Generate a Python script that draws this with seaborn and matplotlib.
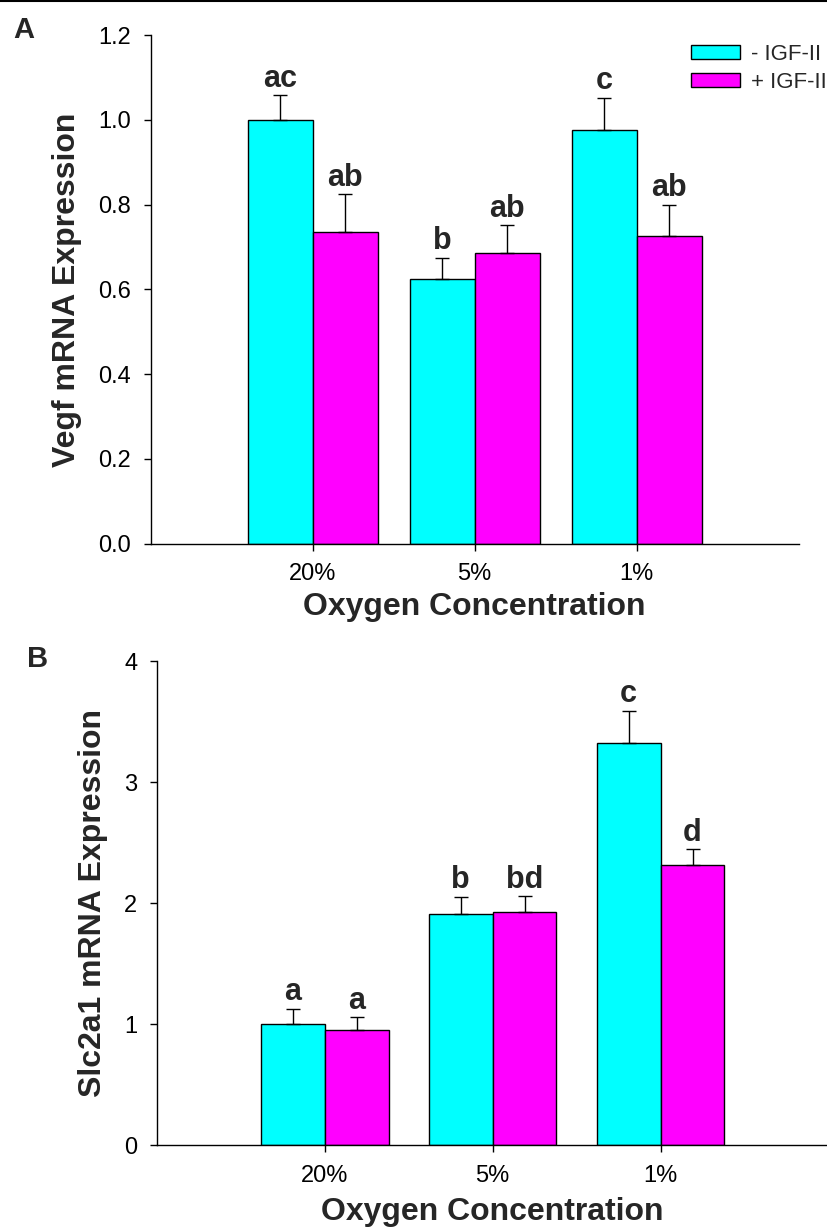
import numpy as np
import pandas as pd
import matplotlib
matplotlib.use("Agg")
import matplotlib.pyplot as plt
import seaborn as sns
from matplotlib.lines import Line2D
from matplotlib.patches import Patch

# ---------------- data ----------------
oxygen = ["20%", "5%", "1%"]
treatments = ["- IGF-II", "+ IGF-II"]

vegf_minus = [1.00, 0.625, 0.975]
vegf_minus_err = [0.058, 0.050, 0.077]
vegf_plus = [0.735, 0.686, 0.725]
vegf_plus_err = [0.090, 0.066, 0.075]
vegf_letters_minus = ["ac", "b", "c"]
vegf_letters_plus = ["ab", "ab", "ab"]

slc_minus = [1.00, 1.913, 3.32]
slc_minus_err = [0.128, 0.140, 0.270]
slc_plus = [0.953, 1.930, 2.317]
slc_plus_err = [0.105, 0.130, 0.130]
slc_letters_minus = ["a", "b", "c"]
slc_letters_plus = ["a", "bd", "d"]

colors = ["#00FFFF", "#FF00FF"]

sns.set_theme(style="white")
plt.rcParams["font.family"] = ["Liberation Sans", "DejaVu Sans"]

W, H = 827, 1227
fig = plt.figure(figsize=(W / 100, H / 100), dpi=100)


def px_axes(left, right, top, bottom):
    return fig.add_axes([left / W, 1 - bottom / H, (right - left) / W, (bottom - top) / H])


def panel(ax, minus, minus_err, plus, plus_err, let_m, let_p, width, ylim, yticks, yfmt, ylabel,
          ylab_x, xlab_y):
    df = pd.DataFrame({
        "oxygen": oxygen * 2,
        "treatment": [treatments[0]] * 3 + [treatments[1]] * 3,
        "value": list(minus) + list(plus),
    })
    sns.barplot(data=df, x="oxygen", y="value", hue="treatment", order=oxygen,
                hue_order=treatments, palette=colors, width=width, dodge=True,
                edgecolor="black", linewidth=1.0, errorbar=None, saturation=1,
                legend=False, ax=ax)
    errs = [minus_err, plus_err]
    lets = [let_m, let_p]
    for cont, err, let in zip(ax.containers, errs, lets):
        xs = [b.get_x() + b.get_width() / 2 for b in cont]
        hs = [b.get_height() for b in cont]
        ax.errorbar(xs, hs, yerr=[np.zeros(len(err)), err], fmt="none", ecolor="black",
                    elinewidth=1.0, capsize=4.7, capthick=1.0, zorder=5)
        for x, h, e, t in zip(xs, hs, err, let):
            ax.annotate(t, (x, h + e), xytext=(0, 6), textcoords="offset points",
                        ha="center", va="baseline", fontsize=22, fontweight="bold")
    ax.set_xlim(-1, 3)
    ax.set_ylim(*ylim)
    ax.set_yticks(yticks)
    ax.set_yticklabels([yfmt.format(v) for v in yticks])
    for s in ["top", "right"]:
        ax.spines[s].set_visible(False)
    for s in ["left", "bottom"]:
        ax.spines[s].set_color("black")
        ax.spines[s].set_linewidth(1.0)
    ax.tick_params(axis="both", which="major", direction="out", length=5, width=1,
                   color="black", labelsize=17, pad=9, labelcolor="black",
                   left=True, bottom=True)
    ax.set_xlabel("Oxygen Concentration", fontsize=23, fontweight="bold", va="center")
    ax.xaxis.set_label_coords(0.5, xlab_y)
    ax.set_ylabel(ylabel, fontsize=23, fontweight="bold", va="center", ha="center")
    ax.yaxis.set_label_coords(ylab_x, 0.5)
    ax.set_facecolor("white")
    ax.grid(False)


# Panel A
axA = px_axes(150.7, 798.7, 35, 543.7)
panel(axA, vegf_minus, vegf_minus_err, vegf_plus, vegf_plus_err,
      vegf_letters_minus, vegf_letters_plus, 0.8, (0, 1.2),
      [0.0, 0.2, 0.4, 0.6, 0.8, 1.0, 1.2], "{:.1f}", "Vegf mRNA Expression",
      -0.1284, -0.1244)

# Panel B
axB = px_axes(156.7, 828.6, 661, 1145.3)
panel(axB, slc_minus, slc_minus_err, slc_plus, slc_plus_err,
      slc_letters_minus, slc_letters_plus, 0.76, (0, 4),
      [0, 1, 2, 3, 4], "{:d}", "Slc2a1 mRNA Expression",
      -0.0955, -0.1377)

# Legend (panel A)
handles = [Patch(facecolor=colors[0], edgecolor="black", linewidth=1.0),
           Patch(facecolor=colors[1], edgecolor="black", linewidth=1.0)]
fig.legend(handles, treatments, loc="upper left",
           bbox_to_anchor=(691 / W, 1 - 44 / H), bbox_transform=fig.transFigure,
           frameon=False, fontsize=16, handlelength=2.2, handleheight=0.63,
           handletextpad=0.5, labelspacing=0.31, borderpad=0, borderaxespad=0)

# Panel letters
fig.text(13 / W, 1 - 38 / H, "A", fontsize=21, fontweight="bold", ha="left", va="baseline")
fig.text(27 / W, 1 - 667 / H, "B", fontsize=21, fontweight="bold", ha="left", va="baseline")

# top border line
fig.add_artist(Line2D([0, 1], [1 - 0.8 / H, 1 - 0.8 / H], color="black", lw=1.5,
                      transform=fig.transFigure))

fig.savefig("out.png", dpi=100, facecolor="white")
